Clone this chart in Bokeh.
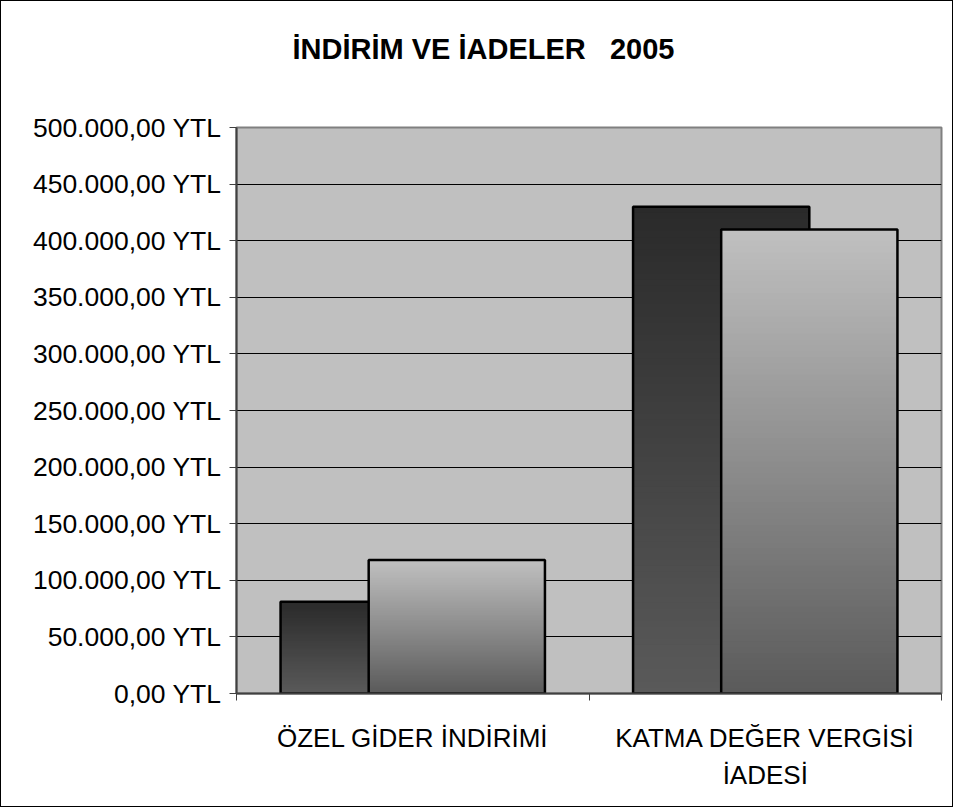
from bokeh.plotting import figure
from bokeh.models import FixedTicker, ColumnDataSource, Label
from bokeh.layouts import column
from bokeh.embed import file_html
from bokeh.resources import INLINE

# ---- data ----
title_text = "İNDİRİM VE İADELER\u00a0\u00a0\u00a02005"
categories = ["ÖZEL GİDER İNDİRİMİ", "KATMA DEĞER VERGİSİ\nİADESİ"]
series_dark = [81000, 430000]
series_light = [118000, 410000]
y_ticks = [0, 50000, 100000, 150000, 200000, 250000, 300000, 350000, 400000, 450000, 500000]
y_tick_labels = ["0,00 YTL", "50.000,00 YTL", "100.000,00 YTL", "150.000,00 YTL",
                 "200.000,00 YTL", "250.000,00 YTL", "300.000,00 YTL", "350.000,00 YTL",
                 "400.000,00 YTL", "450.000,00 YTL", "500.000,00 YTL"]

FONT = "Liberation Sans"
W = 951
HEAD_H = 100
MAIN_H = 705

# ---- header strip holding the chart title ----
head = figure(width=W, height=HEAD_H, x_range=(0, 1), y_range=(0, HEAD_H),
              output_backend="svg", toolbar_location=None, min_border=0)
head.axis.visible = False
head.grid.visible = False
head.outline_line_color = None
head.background_fill_color = "white"
head.border_fill_color = "white"
head.add_layout(Label(x=247, y=HEAD_H - 47, x_units="screen", text=title_text, text_font=FONT,
                      text_font_size="29px", text_font_style="bold",
                      text_align="center", text_baseline="middle", text_color="black"))

# ---- main chart ----
p = figure(width=W, height=MAIN_H, x_range=(0, len(categories)), y_range=(0, 500000),
           output_backend="svg", toolbar_location=None,
           min_border_left=235, min_border_right=11, min_border_top=26, min_border_bottom=113)
p.background_fill_color = "#C0C0C0"
p.border_fill_color = "white"
p.outline_line_color = "#808080"
p.outline_line_width = 2

# grid
p.xgrid.grid_line_color = None
p.ygrid.grid_line_color = "black"
p.ygrid.grid_line_width = 1
p.ygrid.ticker = FixedTicker(ticks=y_ticks)

# y axis
p.yaxis.ticker = FixedTicker(ticks=y_ticks)
p.yaxis.major_label_overrides = {t: s for t, s in zip(y_ticks, y_tick_labels)}
p.yaxis.major_label_text_font = FONT
p.yaxis.major_label_text_font_size = "26.5px"
p.yaxis.major_label_text_color = "black"
p.yaxis.major_tick_out = 7
p.yaxis.major_tick_in = 0
p.yaxis.minor_tick_out = 0
p.yaxis.minor_tick_in = 0
p.yaxis.axis_line_color = "#404040"
p.yaxis.axis_line_width = 2
p.yaxis.major_tick_line_color = "#404040"
p.yaxis.major_label_standoff = 8

# x axis
centers = [i + 0.5 for i in range(len(categories))]
bounds = [float(i) for i in range(len(categories) + 1)]
p.xaxis.ticker = FixedTicker(ticks=centers, minor_ticks=bounds)
p.xaxis.major_label_overrides = {c: s for c, s in zip(centers, categories)}
p.xaxis.major_label_text_font = FONT
p.xaxis.major_label_text_font_size = "26px"
p.xaxis.major_label_text_color = "black"
p.xaxis.major_label_text_align = "center"
p.xaxis.major_label_text_baseline = "middle"
p.xaxis.major_label_text_line_height = 1.25
p.xaxis.major_tick_out = 0
p.xaxis.major_tick_in = 0
p.xaxis.minor_tick_out = 7
p.xaxis.minor_tick_in = 0
p.xaxis.minor_tick_line_color = "#404040"
p.xaxis.axis_line_color = "#404040"
p.xaxis.axis_line_width = 2
p.xaxis.major_label_standoff = 22

# ---- bars with vertical gradient (drawn as nested slices) ----
BAR_W = 0.5
N = 80


def grey(v):
    v = int(round(v))
    return "#%02x%02x%02x" % (v, v, v)


def gradient_bars(values, offset, bottom_level, top_level):
    left, right, top, bottom, color = [], [], [], [], []
    for j, v in enumerate(values):
        xc = j + 0.5 + offset
        for k in range(N - 1, -1, -1):
            frac = (k + 0.5) / N
            left.append(xc - BAR_W / 2)
            right.append(xc + BAR_W / 2)
            bottom.append(0)
            top.append(v * (k + 1) / N)
            color.append(grey(bottom_level + (top_level - bottom_level) * frac))
    src = ColumnDataSource(dict(left=left, right=right, top=top, bottom=bottom, color=color))
    p.quad(left="left", right="right", top="top", bottom="bottom", source=src,
           fill_color="color", line_color=None)
    osrc = ColumnDataSource(dict(
        left=[j + 0.5 + offset - BAR_W / 2 for j in range(len(values))],
        right=[j + 0.5 + offset + BAR_W / 2 for j in range(len(values))],
        top=values, bottom=[0] * len(values)))
    p.quad(left="left", right="right", top="top", bottom="bottom", source=osrc,
           fill_color=None, line_color="black", line_width=2.5)


gradient_bars(series_dark, -0.125, 0x5a, 0x2a)
gradient_bars(series_light, 0.125, 0x5a, 0xc0)

layout = column(head, p, spacing=0)
layout.styles = {"border": "1px solid black"}

open("out.html", "w").write(file_html(layout, INLINE))
